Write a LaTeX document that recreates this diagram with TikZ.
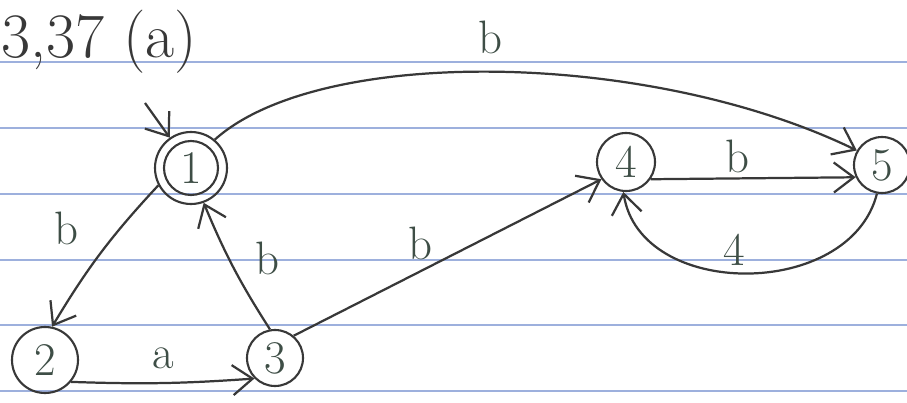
\documentclass[tikz,border=0pt]{standalone}
\usetikzlibrary{arrows.meta}
\definecolor{ink}{HTML}{383838}
\definecolor{inkg}{HTML}{3E4E46}
\definecolor{rulec}{HTML}{9DB0DD}
\begin{document}
\begin{tikzpicture}[x=0.03cm,y=-0.03cm,
  st/.style={circle,draw=ink,line width=1.8pt,inner sep=0pt,minimum size=1.68cm,
    font=\fontsize{40}{40}\selectfont,text=inkg},
  lab/.style={font=\fontsize{40}{40}\selectfont,text=inkg,inner sep=0pt},
  edge/.style={draw=ink,line width=1.9pt,-{Straight Barb[length=6mm,width=9mm]}},
  ruled/.style={draw=rulec,line width=1.2pt}
]
\useasboundingbox (0,0) rectangle (907,403);
\clip (0,0) rectangle (907,403);
\fill[white] (0,0) rectangle (907,403);
\foreach \yy in {62,128,194,260,325,391} \draw[ruled] (0,\yy) -- (907,\yy);

% states
\node[st,minimum size=2.16cm] (n1) at (191,168) {1};
\draw[ink,line width=1.8pt] (n1.center) circle[radius=27];
\node[st,minimum size=1.98cm] (n2) at (45,360) {2};
\node[st] (n3) at (275,358) {3};
\node[st,minimum size=1.74cm] (n4) at (626,162) {4};
\node[st] (n5) at (882,165) {5};

% title
\node[lab,text=ink,anchor=base west,font=\fontsize{54}{54}\selectfont] (title) at (1,58) {3,37 (a)};

% initial arrow
\coordinate (i1) at (145,103);
\draw[edge] (i1) -- (n1.125);

% transitions
\draw[edge] (n1.50) .. controls (320,45) and (650,50) .. (n5.150);
\draw[edge] (n1.208) to[bend right=6] (n2.78);
\draw[edge] (n3.100) to[bend left=5] (n1.-70);
\draw[edge] (n2.-40) to[bend right=3] (n3.225);
\draw[edge] (n3.50) -- (n4.215);
\draw[edge] (n4.-35) -- (n5.205);
\draw[edge] (n5.-100) .. controls (850,300) and (640,300) .. (n4.-95);

% labels
\node[lab] (l15) at (490,37) {b};
\node[lab] (l12) at (66,228) {b};
\node[lab] (l31) at (267,258) {b};
\node[lab] (l23) at (163,358) {a};
\node[lab] (l34) at (420,243) {b};
\node[lab] (l45) at (737,156) {b};
\node[lab] (l54) at (734,250) {4};
\end{tikzpicture}
\end{document}
